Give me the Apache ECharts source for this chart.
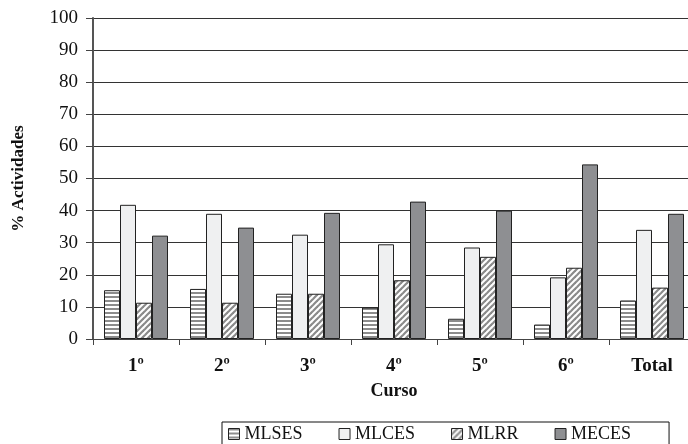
<!DOCTYPE html>
<html>
<head>
<meta charset="utf-8">
<script src="https://cdn.jsdelivr.net/npm/echarts@6/dist/echarts.min.js"></script>
<style>
html,body{margin:0;padding:0;background:#fff;}
#chart{width:688px;height:444px;}
</style>
</head>
<body>
<div id="chart"></div>
<script>
const categories = ['1º','2º','3º','4º','5º','6º','Total'];
const seriesNames = ['MLSES','MLCES','MLRR','MECES'];
const mlses = [15.2, 15.6, 14.1, 9.8, 6.3, 4.5, 12.0];
const mlces = [41.8, 39.0, 32.5, 29.5, 28.5, 19.2, 34.0];
const mlrr  = [11.3, 11.3, 14.1, 18.3, 25.6, 22.2, 16.0];
const meces = [32.2, 34.7, 39.3, 42.8, 40.0, 54.4, 39.0];
const yTicks = [0,10,20,30,40,50,60,70,80,90,100];

function hStripes(){
  const c = document.createElement('canvas'); c.width = 4; c.height = 4;
  const g = c.getContext('2d');
  g.fillStyle = '#ffffff'; g.fillRect(0,0,4,4);
  g.fillStyle = '#8c8c8c'; g.fillRect(0,0,4,2);
  return c;
}
function dStripes(){
  const s = 6;
  const c = document.createElement('canvas'); c.width = s; c.height = s;
  const g = c.getContext('2d');
  g.fillStyle = '#ffffff'; g.fillRect(0,0,s,s);
  g.strokeStyle = '#8a8a8a'; g.lineWidth = 2.2;
  for (let k = -1; k <= 1; k++) {
    g.beginPath();
    g.moveTo(k*s - 1, s + 1);
    g.lineTo(k*s + s + 1, -1);
    g.stroke();
  }
  return c;
}
const fills = [
  {image: hStripes(), repeat: 'repeat'},
  '#eff0f1',
  {image: dStripes(), repeat: 'repeat'},
  '#8e8f92'
];
const dataSets = [mlses, mlces, mlrr, meces];
const font = 'Liberation Serif, Times New Roman, serif';

const chart = echarts.init(document.getElementById('chart'));
chart.setOption({
  animation: false,
  textStyle: {fontFamily: font, color: '#111'},
  grid: {left: 93, right: -7, top: 18, bottom: 105, outerBoundsMode: 'none', containLabel: false},
  legend: {
    data: seriesNames,
    left: 222, top: 422,
    itemWidth: 11, itemHeight: 11, itemGap: 36,
    borderColor: '#111', borderWidth: 1,
    padding: [3, 38, 6, 6],
    textStyle: {fontFamily: font, fontSize: 18, color: '#111'},
    icon: 'rect',
    itemStyle: {borderColor: '#222', borderWidth: 1}
  },
  xAxis: {
    type: 'category', data: categories,
    name: 'Curso', nameLocation: 'middle', nameGap: 43,
    nameTextStyle: {fontFamily: font, fontSize: 18, fontWeight: 'bold', color: '#111'},
    axisLine: {lineStyle: {color: '#444', width: 1}},
    axisTick: {show: true, length: 6, lineStyle: {color: '#444'}},
    axisLabel: {fontFamily: font, fontSize: 19, fontWeight: 'bold', color: '#111', margin: 18}
  },
  yAxis: {
    type: 'value', min: 0, max: 100, interval: 10,
    name: '% Actividades', nameLocation: 'middle', nameGap: 66, nameRotate: 90,
    nameTextStyle: {fontFamily: font, fontSize: 17, fontWeight: 'bold', color: '#111'},
    axisLine: {show: true, lineStyle: {color: '#555', width: 2}},
    axisTick: {show: true, length: 7, lineStyle: {color: '#444'}},
    axisLabel: {fontFamily: font, fontSize: 19, color: '#111', margin: 15,
      formatter: v => yTicks.indexOf(v) >= 0 ? String(v) : ''},
    splitLine: {show: true, lineStyle: {color: '#333', width: 1}}
  },
  series: seriesNames.map((n, i) => ({
    name: n, type: 'bar', data: dataSets[i],
    barWidth: 16, barGap: '0%',
    itemStyle: {color: fills[i], borderColor: '#222', borderWidth: 1}
  }))
});
</script>
</body>
</html>
